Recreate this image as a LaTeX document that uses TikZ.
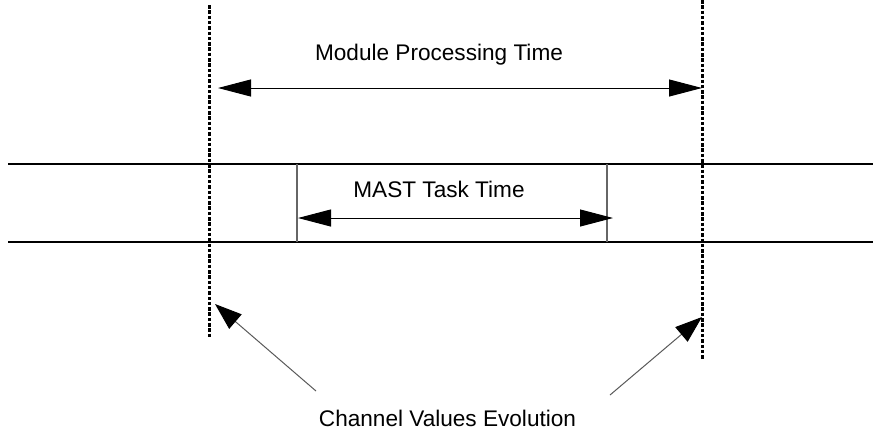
\documentclass[tikz,border=0pt]{standalone}
\usepackage{fontspec}
\setmainfont{Liberation Sans}
\usetikzlibrary{arrows.meta}
\begin{document}
\begin{tikzpicture}[x=1pt,y=-1pt,
  lbl/.style={font=\fontsize{22.6}{26}\selectfont, inner sep=0pt, anchor=base},
  rail/.style={line width=1.4pt, black},
  marker/.style={line width=3pt, dash pattern=on 3.5pt off 1.8pt},
  span/.style={line width=1pt, {Triangle[length=33pt,width=17pt]}-{Triangle[length=33pt,width=17pt]}},
  pointer/.style={line width=1pt, gray!70!black, -{Triangle[length=27pt,width=19pt,color=black]}},
  boxside/.style={line width=1.2pt, gray!80!black}]
\useasboundingbox (0,0) rectangle (873,432);
% rails
\coordinate (r1a) at (8,164);  \coordinate (r1b) at (873,164);
\coordinate (r2a) at (8,242);  \coordinate (r2b) at (873,242);
\draw[rail] (r1a) -- (r1b);
\draw[rail] (r2a) -- (r2b);
% MAST box sides
\coordinate (bl1) at (297,164); \coordinate (bl2) at (297,242);
\coordinate (br1) at (607,164); \coordinate (br2) at (607,242);
\draw[boxside] (bl1) -- (bl2);
\draw[boxside] (br1) -- (br2);
% dashed markers
\coordinate (ml1) at (209,5);  \coordinate (ml2) at (209,338);
\coordinate (mr1) at (702,0);  \coordinate (mr2) at (702,360);
\draw[marker] (ml1) -- (ml2);
\draw[marker] (mr1) -- (mr2);
% labels
\node[lbl] (mpt) at (439,60) {Module Processing Time};
\node[lbl] (mtt) at (439,197) {MAST Task Time};
\node[lbl] (cve) at (447.5,426) {Channel Values Evolution};
% spans
\coordinate (s1a) at (218,88); \coordinate (s1b) at (702,88);
\draw[span] (s1a) -- (s1b);
\coordinate (s2a) at (298,218); \coordinate (s2b) at (613,218);
\draw[span] (s2a) -- (s2b);
% pointers
\coordinate (pl0) at (316,391); \coordinate (pl1) at (215,304);
\coordinate (pr0) at (610,395); \coordinate (pr1) at (702,317);
\draw[pointer] (pl0) -- (pl1);
\draw[pointer] (pr0) -- (pr1);
\end{tikzpicture}
\end{document}
